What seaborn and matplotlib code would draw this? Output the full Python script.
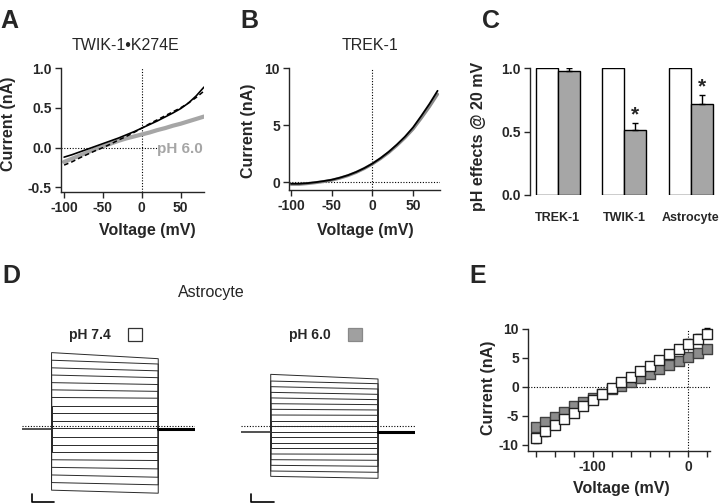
import numpy as np
import pandas as pd
import matplotlib
matplotlib.use("Agg")
import matplotlib.pyplot as plt
import seaborn as sns
from matplotlib.patches import Rectangle

sns.set_style("ticks")
plt.rcParams['font.family'] = ['Liberation Sans', 'DejaVu Sans']
plt.rcParams['axes.unicode_minus'] = False

W, H = 720, 503

# A: TWIK-1 K274E I-V curves (nA)
volt_ab = list(range(-100, 81, 10))
twik_ctrl = [-0.12, -0.09, -0.055, -0.02, 0.015, 0.05, 0.085, 0.12, 0.16, 0.2, 0.245,
             0.29, 0.335, 0.385, 0.435, 0.49, 0.56, 0.65, 0.76]
twik_wash = [-0.22, -0.18, -0.13, -0.085, -0.04, 0.0, 0.045, 0.095, 0.14, 0.19, 0.245,
             0.3, 0.35, 0.4, 0.45, 0.5, 0.56, 0.63, 0.71]
twik_ph6 = [-0.18, -0.14, -0.1, -0.06, -0.02, 0.015, 0.05, 0.085, 0.115, 0.14, 0.165,
            0.19, 0.22, 0.245, 0.275, 0.3, 0.33, 0.36, 0.39]

# B: TREK-1 I-V curves (nA)
trek_ctrl = [-0.15, -0.15, -0.1, -0.02, 0.08, 0.2, 0.38, 0.6, 0.88, 1.22, 1.62,
             2.1, 2.65, 3.28, 3.98, 4.8, 5.8, 6.85, 8.0]
trek_ph6 = [-0.2, -0.2, -0.14, -0.06, 0.04, 0.16, 0.34, 0.56, 0.84, 1.18, 1.58,
            2.05, 2.58, 3.2, 3.88, 4.65, 5.6, 6.6, 7.7]

# C: normalized current at +20 mV
groups = ["TREK-1", "TWIK-1", "Astrocyte"]
ctrl_norm = [1.0, 1.0, 1.0]
ph6_norm = [0.975, 0.515, 0.715]
ph6_sem = [0.025, 0.055, 0.075]
signif = [False, True, True]

# D: astrocyte current traces, level at step start / step end (nA)
protocol_t = [0, 20.5, 94.5, 120]
start_74 = [9.7, 8.7, 7.7, 6.75, 5.75, 4.8, 3.8, 2.7, 1.7, 0.7, -0.26,
            -1.36, -2.4, -3.4, -4.4, -5.4, -6.4, -7.4, -8.4]
end_74 = [8.9, 8.2, 7.3, 6.4, 5.5, 4.6, 3.7, 2.7, 1.7, 0.7, -0.26,
          -1.36, -2.4, -3.4, -4.5, -5.6, -6.7, -7.7, -8.8]
hold_74 = -0.36
start_60 = [6.84, 5.96, 5.22, 4.47, 3.74, 2.98, 2.24, 1.49, 0.75, 0.0, -0.7,
            -1.4, -2.15, -2.9, -3.64, -4.39, -5.13, -5.88, -6.58]
end_60 = [6.23, 5.61, 4.91, 4.21, 3.51, 2.85, 2.15, 1.45, 0.75, 0.0, -0.7,
          -1.4, -2.15, -2.9, -3.68, -4.47, -5.26, -6.05, -6.84]
hold_60 = -0.7

# E: astrocyte I-V (mean, sem)
volt_e = list(range(-160, 21, 10))
astro_74 = [-8.9, -7.7, -6.6, -5.5, -4.5, -3.4, -2.25, -1.3, -0.2, 0.8, 1.7,
            2.7, 3.6, 4.7, 5.6, 6.5, 7.4, 8.3, 9.2]
astro_74_sem = [0.8, 0.8, 0.7, 0.6, 0.5, 0.45, 0.4, 0.3, 0.25, 0.3, 0.35,
                0.4, 0.5, 0.55, 0.6, 0.7, 0.8, 0.8, 0.9]
astro_60 = [-6.9, -6.1, -5.2, -4.3, -3.4, -2.6, -1.85, -1.2, -0.4, 0.1, 0.8,
            1.5, 2.3, 3.0, 3.7, 4.4, 5.1, 5.8, 6.5]
astro_60_sem = [0.5, 0.45, 0.4, 0.35, 0.3, 0.25, 0.2, 0.2, 0.15, 0.15, 0.2,
                0.25, 0.3, 0.35, 0.4, 0.45, 0.5, 0.55, 0.6]

GRAY = '#a6a6a6'
DOT = (0, (1, 1.5))

fig = plt.figure(figsize=(W / 100, H / 100), dpi=100)


def add_ax(x0, y0, x1, y1):
    return fig.add_axes([x0 / W, 1 - y1 / H, (x1 - x0) / W, (y1 - y0) / H])


def ftext(x, y, s, **kw):
    fig.text(x / W, 1 - y / H, s, **kw)


def style_ax(ax):
    sns.despine(ax=ax)
    for s in ax.spines.values():
        s.set_linewidth(1.0)
    ax.tick_params(direction='out', length=4.5, width=1, labelsize=10, pad=2)
    for lab in ax.get_xticklabels() + ax.get_yticklabels():
        lab.set_fontweight('bold')


# ---- A
ax = add_ax(61, 68, 204, 192)
ax.plot([-104, 24], [0, 0], ls=DOT, color='black', lw=0.8)
ax.axvline(0, ls=DOT, color='black', lw=0.8)
sns.lineplot(x=volt_ab, y=twik_ph6, ax=ax, color=GRAY, lw=3)
sns.lineplot(x=volt_ab, y=twik_wash, ax=ax, color='black', lw=1.1, linestyle=(0, (3, 2)))
sns.lineplot(x=volt_ab, y=twik_ctrl, ax=ax, color='black', lw=1.2)
ax.text(79, -0.02, "pH 6.0", ha='right', va='center', color=GRAY, fontweight='bold', fontsize=11)
ax.set_xlim(-104, 80)
ax.set_ylim(-0.558, 1.0)
ax.set_xticks([-100, -50, 0, 50])
ax.set_yticks([-0.5, 0.0, 0.5, 1.0])
ax.set_yticklabels(['-0.5', '0.0', '0.5', '1.0'])
style_ax(ax)

# ---- B
ax = add_ax(289, 68, 440, 190)
ax.axhline(0, ls=DOT, color='black', lw=0.8)
ax.axvline(0, ls=DOT, color='black', lw=0.8)
sns.lineplot(x=volt_ab, y=trek_ph6, ax=ax, color='#888888', lw=2.2)
sns.lineplot(x=volt_ab, y=trek_ctrl, ax=ax, color='black', lw=1.3)
ax.set_xlim(-102.5, 83)
ax.set_ylim(-0.7, 10)
ax.set_xticks([-100, -50, 0, 50])
ax.set_yticks([0, 5, 10])
style_ax(ax)

# ---- C
ax = add_ax(530, 68, 720, 195)
df_c = pd.DataFrame({'group': groups * 2,
                     'cond': ['pH 7.4'] * 3 + ['pH 6.0'] * 3,
                     'value': ctrl_norm + ph6_norm})
sns.barplot(data=df_c, x='group', y='value', hue='cond', hue_order=['pH 7.4', 'pH 6.0'],
            palette=['white', GRAY], saturation=1, edgecolor='black', linewidth=1,
            width=0.66, errorbar=None, legend=False, ax=ax)
bars = ax.containers[1]
xc = [b.get_x() + b.get_width() / 2 for b in bars]
ax.errorbar(xc, ph6_norm, yerr=[np.zeros(3), ph6_sem], fmt='none', ecolor='black',
            elinewidth=1, capsize=2.5, capthick=1, zorder=4)
for x, v, e, s in zip(xc, ph6_norm, ph6_sem, signif):
    if s:
        ax.text(x, v + e + 0.02, '*', ha='center', va='baseline', fontsize=15, fontweight='bold')
ax.set_xlim(-0.42, 2.44)
ax.set_ylim(0, 1.0)
ax.set_yticks([0.0, 0.5, 1.0])
ax.set_yticklabels(['0.0', '0.5', '1.0'])
ax.set_xlabel('')
ax.set_ylabel('')
style_ax(ax)
ax.spines['bottom'].set_visible(False)
ax.tick_params(axis='x', length=0, pad=12, labelsize=9)


# ---- D
def draw_traces(ax, starts, ends, hold):
    t0, t_on, t_off, t1 = protocol_t
    ax.plot([t0, t1], [0, 0], ls=DOT, color='black', lw=0.8)
    for a, b in zip(starts, ends):
        sns.lineplot(x=[t_on, t_on, t_off, t_off], y=[hold, a, b, hold], ax=ax,
                     color='#2a2a2a', lw=0.7, sort=False, estimator=None)
    sns.lineplot(x=[t0, t_on], y=[hold, hold], ax=ax, color='#333333', lw=1.2)
    sns.lineplot(x=[t_off, t1], y=[hold, hold], ax=ax, color='black', lw=2.2)
    # scale bar
    ax.plot([7.2, 7.2, 22.5], [-8.9, -9.9, -9.9], color='black', lw=1.2, clip_on=False)
    ax.set_xlim(0, 120)
    ax.set_ylim(-10.09, 11.36)
    ax.axis('off')


ax = add_ax(22, 340, 195, 503)
draw_traces(ax, start_74, end_74, hold_74)
ax = add_ax(241, 340, 415, 503)
draw_traces(ax, start_60, end_60, hold_60)

ftext(211, 297, "Astrocyte", ha='center', va='baseline', fontsize=11.5)
ftext(90, 339, "pH 7.4", ha='center', va='baseline', fontsize=10, fontweight='bold')
ftext(310, 339, "pH 6.0", ha='center', va='baseline', fontsize=10, fontweight='bold')
fig.add_artist(Rectangle((128 / W, 1 - 341 / H), 14 / W, 13 / H, transform=fig.transFigure,
                         facecolor='white', edgecolor='#333333', lw=0.9))
fig.add_artist(Rectangle((348 / W, 1 - 341 / H), 14 / W, 13 / H, transform=fig.transFigure,
                         facecolor='#a0a0a0', edgecolor='#888888', lw=0.9))

# ---- E
ax = add_ax(528, 329, 710, 451)
ax.axhline(0, ls=DOT, color='black', lw=0.8)
ax.axvline(0, ls=DOT, color='black', lw=0.8)
for vals, sem, fc, ec in [(astro_60, astro_60_sem, '#8c8c8c', '#404040'),
                          (astro_74, astro_74_sem, 'white', '#202020')]:
    v = np.array(vals)
    e = np.array(sem)
    lo = np.where(v < 0, e, 0)
    hi = np.where(v >= 0, e, 0)
    ax.errorbar(volt_e, v, yerr=[lo, hi], fmt='none', ecolor='black', elinewidth=0.8,
                capsize=2.5, capthick=1, zorder=3, clip_on=False)
    sns.scatterplot(x=volt_e, y=vals, ax=ax, marker='s', s=44, color=fc, edgecolor=ec,
                    linewidth=1.0, zorder=4, clip_on=False)
ax.set_xlim(-168, 23)
ax.set_ylim(-11.1, 10)
ax.set_xticks(list(range(-160, 21, 20)))
ax.set_xticklabels(['-100' if t == -100 else ('0' if t == 0 else '') for t in range(-160, 21, 20)])
ax.set_yticks([-10, -5, 0, 5, 10])
style_ax(ax)

# ---- axis labels and titles
lab = dict(fontsize=11.5, fontweight='bold', ha='center', va='center')
ftext(125, 45, "TWIK-1•K274E", ha='center', va='center', fontsize=11.5)
ftext(370, 45, "TREK-1", ha='center', va='center', fontsize=11.5)
ftext(147, 230, "Voltage (mV)", **lab)
ftext(9, 124, "Current (nA)", rotation=90, **lab)
ftext(365, 230, "Voltage (mV)", **lab)
ftext(248, 131, "Current (nA)", rotation=90, **lab)
ftext(478, 136, "pH effects @ 20 mV", rotation=90, **lab)
ftext(621, 489, "Voltage (mV)", **lab)
ftext(489, 388, "Current (nA)", rotation=90, **lab)

# ---- panel letters
let = dict(fontsize=18, fontweight='bold', va='baseline', ha='left')
ftext(0, 28, "A", **let)
ftext(240, 28, "B", **let)
ftext(482, 28, "C", **let)
ftext(2, 283, "D", **let)
ftext(469, 283, "E", **let)

fig.savefig("out.png", dpi=100)
